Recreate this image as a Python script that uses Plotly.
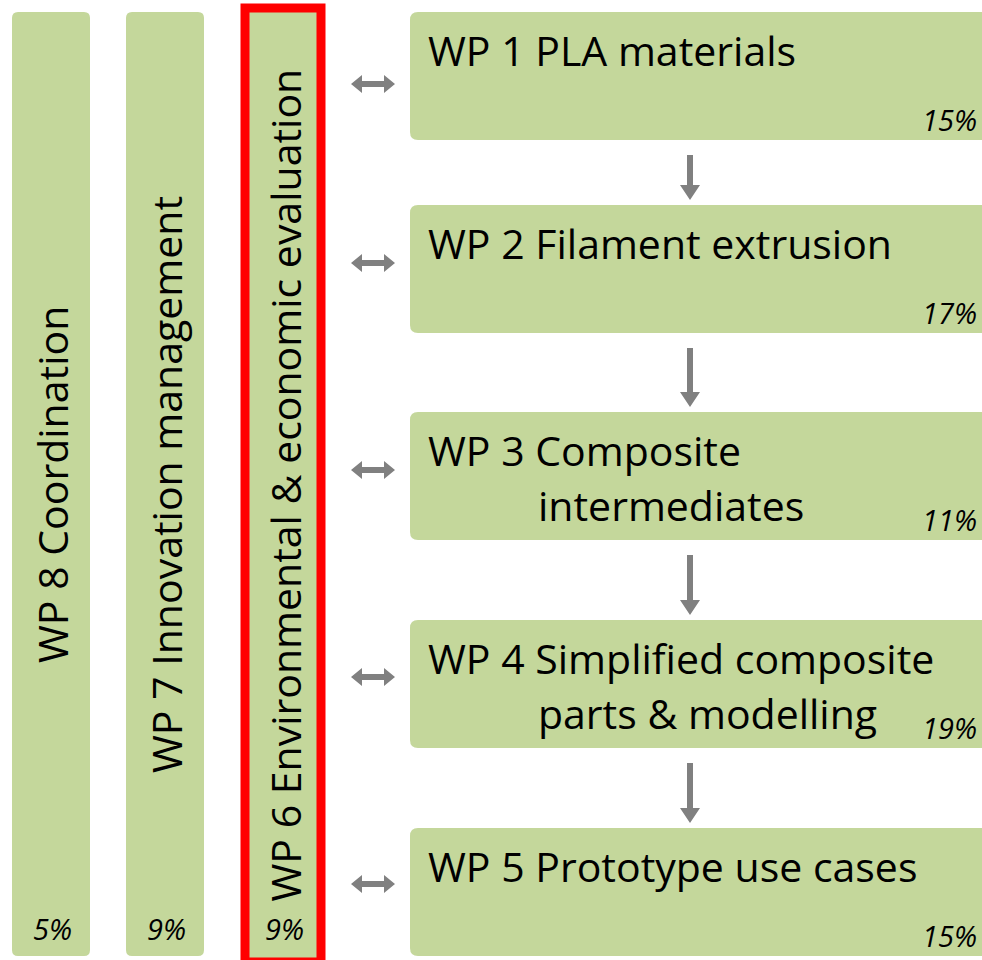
import plotly.graph_objects as go

# ---- data ----
side_labels = ["WP 8 Coordination", "WP 7 Innovation management",
               "WP 6 Environmental & economic evaluation"]
side_pcts = ["5%", "9%", "9%"]
main_labels = [["WP 1 PLA materials"],
               ["WP 2 Filament extrusion"],
               ["WP 3 Composite", "intermediates"],
               ["WP 4 Simplified composite", "parts & modelling"],
               ["WP 5 Prototype use cases"]]
main_pcts = ["15%", "17%", "11%", "19%", "15%"]
highlighted = 2  # index of side bar with red frame

GREEN = "#C4D79B"
GRAY = "#808080"
RED = "#FF0000"
FONT = "Open Sans"
TSIZE = 41
PSIZE = 29

W, H = 982, 960
fig = go.Figure()
shapes = []
ann = []


def rrect(x0, y0, x1, y1, r=6):
    return (f"M{x0+r},{y0} L{x1-r},{y0} Q{x1},{y0} {x1},{y0+r} "
            f"L{x1},{y1-r} Q{x1},{y1} {x1-r},{y1} L{x0+r},{y1} "
            f"Q{x0},{y1} {x0},{y1-r} L{x0},{y0+r} Q{x0},{y0} {x0+r},{y0} Z")


# side bars
side_x = [(12, 90), (126, 204), (250, 317)]
for i, (lab, pct) in enumerate(zip(side_labels, side_pcts)):
    x0, x1 = side_x[i]
    if i == highlighted:
        shapes.append(dict(type="rect", xref="x", yref="y", x0=x0 - 5, x1=x1 + 4,
                           y0=8, y1=962, line=dict(color=RED, width=9),
                           fillcolor=GREEN, layer="below"))
    else:
        shapes.append(dict(type="path", xref="x", yref="y", path=rrect(x0, 12, x1, 956),
                           fillcolor=GREEN, line=dict(width=0), layer="below"))
    cx = (x0 + x1) / 2
    ann.append(dict(x=cx + 1, y=485, text=lab, textangle=-90, showarrow=False,
                    font=dict(family=FONT, size=TSIZE, color="black"),
                    xanchor="center", yanchor="middle"))
    ann.append(dict(x=cx + 1, y=928, text=f"<i>{pct}</i>", showarrow=False,
                    font=dict(family=FONT, size=PSIZE, color="black"),
                    xanchor="center", yanchor="middle"))

# main boxes
box_tops = [12, 205, 412, 620, 828]
box_h = 128
arrow_y = [84, 263, 470, 677, 884]
for i, (lines, pct) in enumerate(zip(main_labels, main_pcts)):
    y0 = box_tops[i]
    y1 = y0 + box_h
    shapes.append(dict(type="path", xref="x", yref="y", path=rrect(410, y0, 990, y1, 8),
                       fillcolor=GREEN, line=dict(width=0), layer="below"))
    for j, line in enumerate(lines):
        ann.append(dict(x=426 if j == 0 else 536, y=y0 + 38 + 55 * j, text=line,
                        showarrow=False, xanchor="left", yanchor="middle",
                        font=dict(family=FONT, size=TSIZE, color="black")))
    ann.append(dict(x=979, y=y1 - 21, text=f"<i>{pct}</i>", showarrow=False,
                    xanchor="right", yanchor="middle",
                    font=dict(family=FONT, size=PSIZE, color="black")))
    # double arrow
    ay = arrow_y[i]
    path = (f"M351,{ay} L362,{ay-9} L362,{ay-3} L384,{ay-3} L384,{ay-9} L395,{ay} "
            f"L384,{ay+9} L384,{ay+3} L362,{ay+3} L362,{ay+9} Z")
    shapes.append(dict(type="path", xref="x", yref="y", path=path,
                       fillcolor=GRAY, line=dict(width=0)))
    # down arrow
    if i < len(main_labels) - 1:
        t = y1 + 15
        b = box_tops[i + 1] - 5
        path = (f"M687,{t} L693,{t} L693,{b-15} L700,{b-15} L690,{b} "
                f"L680,{b-15} L687,{b-15} Z")
        shapes.append(dict(type="path", xref="x", yref="y", path=path,
                           fillcolor=GRAY, line=dict(width=0)))

fig.update_layout(
    width=W, height=H, margin=dict(l=0, r=0, t=0, b=0),
    paper_bgcolor="white", plot_bgcolor="white",
    xaxis=dict(range=[0, W], visible=False, fixedrange=True),
    yaxis=dict(range=[H, 0], visible=False, fixedrange=True),
    shapes=shapes, annotations=ann, showlegend=False,
)
fig.write_html("out.html", config={"displayModeBar": False},
               post_script="document.body.style.margin='0px';document.body.style.overflow='hidden';")
